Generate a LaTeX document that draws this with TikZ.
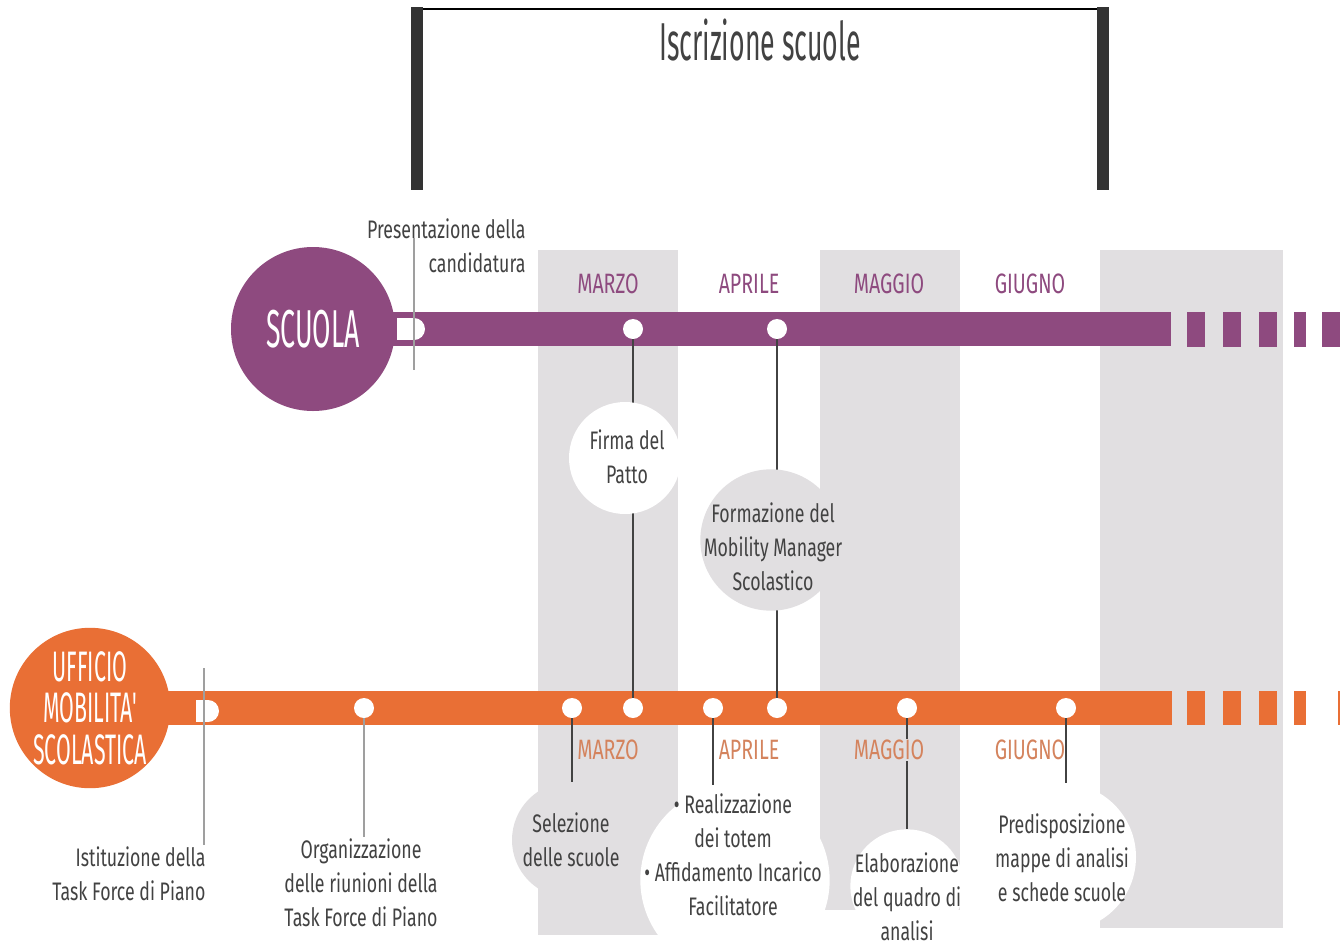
\documentclass[tikz,border=0pt]{standalone}
\usepackage{fontspec}
\setmainfont[FakeStretch=0.7]{Fira Sans}
\newfontfamily\headfont[FakeStretch=0.5]{Fira Sans}
\definecolor{scuola}{HTML}{8E4A7F}
\definecolor{ufficio}{HTML}{E96F35}
\definecolor{banda}{HTML}{E1DFE1}
\definecolor{testo}{HTML}{424242}
\definecolor{mesebasso}{HTML}{D4835D}
\tikzset{
  fascia/.style={fill=banda},
  pallino/.style={circle,fill=white,inner sep=0pt,minimum size=15pt},
  bolla/.style={circle,inner sep=0pt,minimum size=#1},
  testo/.style={text=testo,align=center,inner sep=1pt,font=\fontsize{19}{25.5}\selectfont},
  mese/.style={inner sep=1pt,font=\fontsize{21}{25}\selectfont},
  legame/.style={draw=testo,line width=1.1pt},
  filo/.style={draw=gray!75,line width=0.8pt},
  barra/.style={line width=26pt}
}
\begin{document}
\begin{tikzpicture}[x=0.75pt,y=-0.75pt]
\useasboundingbox[fill=white] (0,0) rectangle (1340,947);

\fill[fascia] (538,250) rectangle (678,935);
\fill[fascia] (820,250) rectangle (960,910);
\fill[fascia] (1100,250) rectangle (1283,928);

\coordinate (s0) at (313,329);
\coordinate (s1) at (1171,329);
\coordinate (u0) at (90,708);
\coordinate (u1) at (1172,708);
\draw[barra,scuola] (s0) -- (s1);
\draw[barra,ufficio] (u0) -- (u1);
\foreach \a/\b in {1187/1205,1223/1241,1259/1277,1294/1306,1322/1345}
  \fill[scuola] (\a,312) rectangle (\b,347);
\foreach \a/\b in {1187/1205,1223/1241,1259/1277,1294/1306,1338/1345}
  \fill[ufficio] (\a,691) rectangle (\b,725);

\foreach \n/\x in {1/633,2/777}
  \node[pallino] (sp\n) at (\x,329) {};
\foreach \n/\x in {1/364,2/572,3/633,4/713,5/777,6/907,7/1066}
  \node[pallino] (up\n) at (\x,708) {};

\draw[legame] (sp1) -- (up3);
\draw[legame] (sp2) -- (up5);

\node[bolla=84pt,fill=white] (firma) at (625,458) {};
\node[bolla=106pt,fill=banda] (formazione) at (771,540) {};
\node[bolla=87pt,fill=banda] (selezione) at (570,840) {};
\node[bolla=142pt,fill=white] (realizzazione) at (735,880) {};
\node[bolla=85pt,fill=white] (elaborazione) at (907,886) {};
\node[bolla=111pt,fill=white] (predisposizione) at (1062,857) {};

\node[testo,anchor=east,align=right] (presentazione) at (527,246) {Presentazione della\\candidatura};
\node[testo,anchor=east,align=right] (istituzione) at (207,874) {Istituzione della\\Task Force di Piano};
\node[testo] (organizzazione) at (361,883) {Organizzazione\\delle riunioni della\\Task Force di Piano};
\node[testo] (tfirma) at (627,457) {Firma del\\Patto};
\node[testo] (tformazione) at (773,547) {Formazione del\\Mobility Manager\\Scolastico};
\node[testo] (tselezione) at (571,840) {Selezione\\delle scuole};
\node[testo] (trealizzazione) at (733,855) {• Realizzazione\\dei totem\\• Affidamento Incarico\\Facilitatore};
\node[testo] (telaborazione) at (907,897) {Elaborazione\\del quadro di\\analisi};
\node[testo] (tpredisposizione) at (1062,858) {Predisposizione\\mappe di analisi\\e schede scuole};

\draw[filo] (up1) -- (up1 |- organizzazione.north);
\draw[legame] (up2) -- (up2 |- selezione.north);
\draw[legame] (up4) -- (up4 |- realizzazione.north);
\draw[legame] (up6) -- (elaborazione);
\draw[legame] (up7) -- (up7 |- predisposizione.north);

\foreach \m/\x/\f in {MARZO/608/banda,APRILE/749/none,MAGGIO/889/banda,GIUGNO/1030/none}
{
  \node[mese,text=scuola] (alto\m) at (\x,284) {\m};
  \node[mese,text=mesebasso,fill=\f] (basso\m) at (\x,750) {\m};
}

\node[circle,fill=scuola,inner sep=0pt,minimum size=123pt,text=white,
  font=\headfont\fontsize{40}{40}\selectfont] (scuola) at (s0) {SCUOLA};
\node[circle,fill=ufficio,inner sep=0pt,minimum size=118pt,text=white,align=center,
  font=\headfont\fontsize{32}{31}\selectfont] (ufficio) at (u0) {UFFICIO\\MOBILITA'\\SCOLASTICA};

\fill[white] (397,318) rectangle (414,340);
\fill[white] (414,329) circle[radius=11];
\fill[white] (196,700) rectangle (208,722);
\fill[white] (208,711) circle[radius=11];

\coordinate (pt0) at (414,238);
\coordinate (pt1) at (414,370);
\coordinate (it0) at (204,668);
\coordinate (it1) at (204,845);
\draw[filo] (pt0) -- (pt1);
\draw[filo] (it0) -- (it1);

\draw[line width=2.2pt,testo] (417,9) -- (1103,9);
\fill[black!80] (411,7) rectangle (423,190);
\fill[black!80] (1097,7) rectangle (1109,190);
\node[text=testo,font=\headfont\fontsize{40}{40}\selectfont] (iscrizione) at (760,40) {Iscrizione scuole};
\end{tikzpicture}
\end{document}
